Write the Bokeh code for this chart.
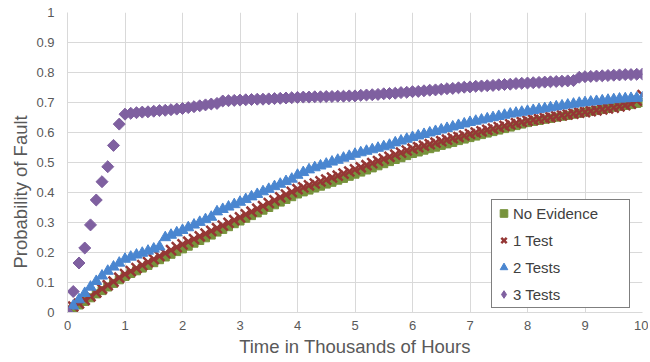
import math
from bokeh.plotting import figure
from bokeh.models import Legend, LegendItem, FixedTicker, ColumnDataSource, Title
from bokeh.embed import file_html
from bokeh.resources import INLINE

hours = [0.0, 0.1, 0.2, 0.3, 0.4, 0.5, 0.6, 0.7, 0.8, 0.9,
         1.0, 1.1, 1.2, 1.3, 1.4, 1.5, 1.6, 1.7, 1.8, 1.9,
         2.0, 2.1, 2.2, 2.3, 2.4, 2.5, 2.6, 2.7, 2.8, 2.9,
         3.0, 3.1, 3.2, 3.3, 3.4, 3.5, 3.6, 3.7, 3.8, 3.9,
         4.0, 4.1, 4.2, 4.3, 4.4, 4.5, 4.6, 4.7, 4.8, 4.9,
         5.0, 5.1, 5.2, 5.3, 5.4, 5.5, 5.6, 5.7, 5.8, 5.9,
         6.0, 6.1, 6.2, 6.3, 6.4, 6.5, 6.6, 6.7, 6.8, 6.9,
         7.0, 7.1, 7.2, 7.3, 7.4, 7.5, 7.6, 7.7, 7.8, 7.9,
         8.0, 8.1, 8.2, 8.3, 8.4, 8.5, 8.6, 8.7, 8.8, 8.9,
         9.0, 9.1, 9.2, 9.3, 9.4, 9.5, 9.6, 9.7, 9.8, 9.9,
         10.0]

no_evidence = [0.000, 0.012, 0.025, 0.037, 0.049, 0.062, 0.073, 0.085, 0.097, 0.109,
               0.120, 0.130, 0.139, 0.148, 0.157, 0.166, 0.176, 0.185, 0.194, 0.203,
               0.212, 0.221, 0.231, 0.240, 0.249, 0.258, 0.268, 0.277, 0.286, 0.296,
               0.305, 0.314, 0.323, 0.332, 0.341, 0.350, 0.359, 0.368, 0.377, 0.386,
               0.395, 0.402, 0.408, 0.415, 0.421, 0.428, 0.434, 0.441, 0.447, 0.454,
               0.461, 0.468, 0.475, 0.482, 0.489, 0.496, 0.503, 0.510, 0.516, 0.523,
               0.530, 0.535, 0.541, 0.546, 0.551, 0.557, 0.562, 0.567, 0.573, 0.578,
               0.583, 0.588, 0.593, 0.598, 0.603, 0.608, 0.613, 0.618, 0.623, 0.628,
               0.633, 0.637, 0.640, 0.644, 0.647, 0.651, 0.654, 0.657, 0.661, 0.664,
               0.668, 0.671, 0.674, 0.677, 0.680, 0.684, 0.687, 0.690, 0.693, 0.697,
               0.700]

one_test = [0.015, 0.020, 0.030, 0.042, 0.054, 0.067, 0.079, 0.091, 0.103, 0.116,
            0.128, 0.138, 0.148, 0.158, 0.168, 0.178, 0.188, 0.198, 0.208, 0.218,
            0.227, 0.236, 0.245, 0.254, 0.263, 0.272, 0.281, 0.290, 0.299, 0.308,
            0.317, 0.327, 0.336, 0.346, 0.355, 0.365, 0.374, 0.384, 0.393, 0.402,
            0.411, 0.417, 0.424, 0.430, 0.437, 0.443, 0.450, 0.456, 0.463, 0.470,
            0.477, 0.484, 0.491, 0.498, 0.505, 0.512, 0.519, 0.526, 0.533, 0.540,
            0.546, 0.551, 0.556, 0.561, 0.566, 0.571, 0.576, 0.581, 0.585, 0.590,
            0.595, 0.600, 0.604, 0.609, 0.613, 0.618, 0.622, 0.627, 0.631, 0.635,
            0.639, 0.642, 0.645, 0.648, 0.651, 0.654, 0.657, 0.660, 0.663, 0.666,
            0.668, 0.671, 0.674, 0.677, 0.680, 0.683, 0.687, 0.691, 0.696, 0.706,
            0.725]

two_tests = [0.000, 0.022, 0.043, 0.064, 0.085, 0.104, 0.122, 0.138, 0.152, 0.165,
             0.178, 0.185, 0.192, 0.198, 0.205, 0.212, 0.219, 0.250, 0.258, 0.266,
             0.274, 0.283, 0.292, 0.301, 0.310, 0.318, 0.336, 0.344, 0.352, 0.360,
             0.368, 0.377, 0.386, 0.394, 0.403, 0.411, 0.420, 0.428, 0.437, 0.445,
             0.458, 0.467, 0.476, 0.483, 0.489, 0.495, 0.502, 0.508, 0.515, 0.521,
             0.528, 0.533, 0.538, 0.543, 0.548, 0.553, 0.558, 0.566, 0.572, 0.578,
             0.584, 0.589, 0.594, 0.599, 0.604, 0.609, 0.614, 0.619, 0.624, 0.629,
             0.634, 0.638, 0.642, 0.646, 0.650, 0.654, 0.658, 0.662, 0.665, 0.668,
             0.671, 0.674, 0.677, 0.680, 0.683, 0.686, 0.689, 0.692, 0.695, 0.698,
             0.700, 0.702, 0.704, 0.706, 0.708, 0.710, 0.712, 0.713, 0.714, 0.715,
             0.716]

three_tests = [0.000, 0.070, 0.165, 0.215, 0.292, 0.375, 0.436, 0.486, 0.557, 0.628,
               0.661, 0.664, 0.666, 0.668, 0.669, 0.671, 0.673, 0.674, 0.676, 0.678,
               0.680, 0.683, 0.686, 0.689, 0.692, 0.695, 0.697, 0.705, 0.706, 0.707,
               0.708, 0.709, 0.710, 0.711, 0.711, 0.712, 0.713, 0.714, 0.715, 0.716,
               0.717, 0.718, 0.718, 0.719, 0.719, 0.720, 0.720, 0.721, 0.721, 0.722,
               0.722, 0.724, 0.725, 0.726, 0.727, 0.729, 0.730, 0.731, 0.733, 0.734,
               0.736, 0.737, 0.739, 0.741, 0.742, 0.744, 0.746, 0.747, 0.749, 0.751,
               0.752, 0.754, 0.755, 0.756, 0.757, 0.759, 0.760, 0.761, 0.763, 0.764,
               0.765, 0.766, 0.767, 0.768, 0.769, 0.770, 0.771, 0.772, 0.773, 0.784,
               0.786, 0.787, 0.788, 0.789, 0.790, 0.791, 0.792, 0.793, 0.793, 0.794,
               0.795]

series_names = ["No Evidence", "1 Test", "2 Tests", "3 Tests"]
x_title = "Time in Thousands of Hours"
y_title = "Probability of Fault"

x_ticks = [0, 1, 2, 3, 4, 5, 6, 7, 8, 9, 10]
x_tick_labels = ["0", "1", "2", "3", "4", "5", "6", "7", "8", "9", "10"]
y_ticks = [0.0, 0.1, 0.2, 0.3, 0.4, 0.5, 0.6, 0.7, 0.8, 0.9, 1.0]
y_tick_labels = ["0", "0.1", "0.2", "0.3", "0.4", "0.5", "0.6", "0.7", "0.8", "0.9", "1"]

FONT = "Liberation Sans"
GRID = "#d9d9d9"
TEXT = "#595959"
GREEN = "#77933C"
RED = "#953735"
BLUE = "#4A86D0"
PURPLE = "#7F60A0"

p = figure(width=648, height=360, x_range=(0, 10), y_range=(0, 1),
           output_backend="svg", toolbar_location=None,
           min_border_left=67, min_border_right=6, min_border_top=12,
           min_border_bottom=48)
p.outline_line_color = None
p.background_fill_color = "white"
p.border_fill_color = "white"

p.xaxis.ticker = FixedTicker(ticks=x_ticks)
p.yaxis.ticker = FixedTicker(ticks=y_ticks)
p.xaxis.major_label_overrides = {t: l for t, l in zip(x_ticks, x_tick_labels)}
p.yaxis.major_label_overrides = {t: l for t, l in zip(y_ticks, y_tick_labels)}

for ax in (p.xaxis[0], p.yaxis[0]):
    ax.axis_line_color = GRID
    ax.major_tick_line_color = None
    ax.minor_tick_line_color = None
    ax.major_tick_out = 0
    ax.major_tick_in = 0
    ax.minor_tick_out = 0
    ax.minor_tick_in = 0
    ax.major_label_text_font = FONT
    ax.major_label_text_font_size = "13px"
    ax.major_label_text_color = TEXT

p.xaxis.axis_label = x_title
p.xaxis.axis_label_text_font = FONT
p.xaxis.axis_label_text_font_size = "18.5px"
p.xaxis.axis_label_text_font_style = "normal"
p.xaxis.axis_label_text_color = TEXT
p.xaxis.major_label_standoff = 8
p.xaxis.axis_label_standoff = 3
p.yaxis.major_label_standoff = 13

# y-axis title as a side-panel title so it can sit below the frame centre
y_title_obj = Title(text=y_title, align="left", offset=44,
                    text_font=FONT, text_font_size="18.5px", text_font_style="normal",
                    text_color=TEXT, standoff=5)
p.add_layout(y_title_obj, "left")

p.xgrid.ticker = FixedTicker(ticks=x_ticks)
p.ygrid.ticker = FixedTicker(ticks=y_ticks)
p.xgrid.grid_line_color = GRID
p.ygrid.grid_line_color = GRID

src = ColumnDataSource(dict(h=hours, ne=no_evidence, t1=one_test, t2=two_tests, t3=three_tests))

r_ne = p.scatter("h", "ne", source=src, marker="square", size=8, color=GREEN)
r_t1 = p.scatter("h", "t1", source=src, marker="x", size=14, line_color=RED, line_width=2.5)
r_t2 = p.scatter("h", "t2", source=src, marker="triangle", size=11, color=BLUE)
r_t3 = p.scatter("h", "t3", source=src, marker="square", size=8.5, angle=math.pi / 4, color=PURPLE)

# hidden twin of the diamond series, used only for its (unrotated) legend key
r_t3_key = p.scatter("h", "t3", source=src, marker="diamond", size=12, color=PURPLE, visible=False)

legend = Legend(items=[LegendItem(label=series_names[0], renderers=[r_ne]),
                       LegendItem(label=series_names[1], renderers=[r_t1]),
                       LegendItem(label=series_names[2], renderers=[r_t2]),
                       LegendItem(label=series_names[3], renderers=[r_t3_key])],
                location=(424, 4))
legend.border_line_color = "#000000"
legend.border_line_width = 1
legend.background_fill_color = "white"
legend.background_fill_alpha = 1
legend.inactive_fill_alpha = 0
legend.label_text_font = FONT
legend.label_text_font_size = "15px"
legend.label_text_color = "#404040"
legend.glyph_width = 19
legend.glyph_height = 22
legend.label_height = 22
legend.label_width = 114
legend.label_standoff = 0
legend.spacing = 5
legend.padding = 2
legend.margin = 0
p.add_layout(legend)

open("out.html", "w").write(file_html(p, INLINE))
